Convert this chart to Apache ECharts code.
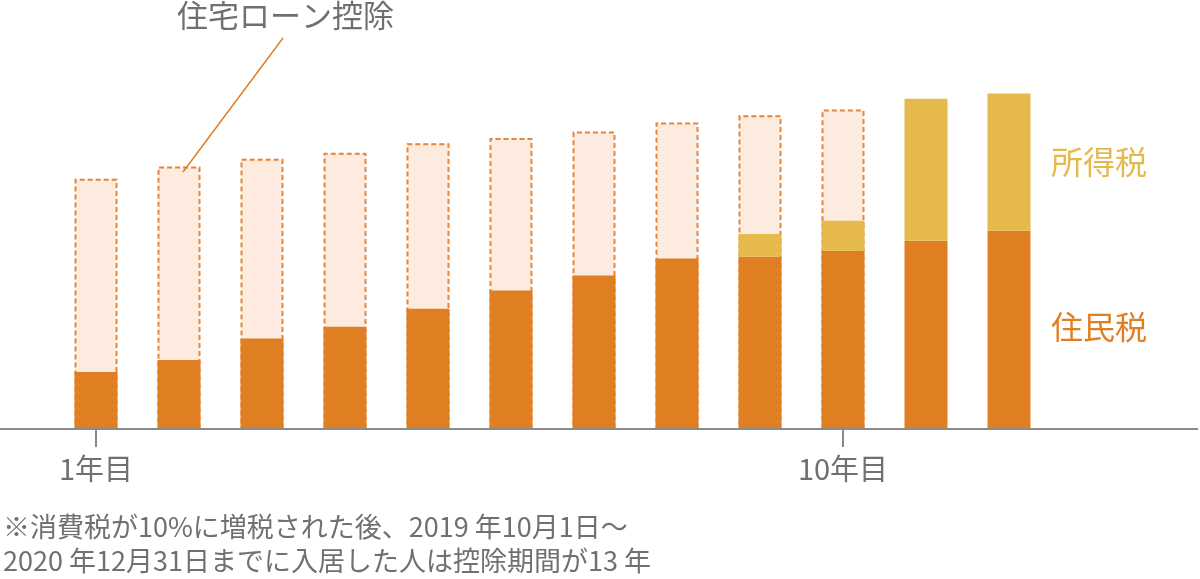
<!DOCTYPE html>
<html>
<head>
<meta charset="utf-8">
<script src="https://cdn.jsdelivr.net/npm/echarts@6/dist/echarts.min.js"></script>
<style>
html,body{margin:0;padding:0;background:#fff;}
#chart{width:1200px;height:579px;}
</style>
</head>
<body>
<div id="chart"></div>
<script>
// Data (arbitrary units; baseline 0, top of scale 100)
const categories = ['1年目','2年目','3年目','4年目','5年目','6年目','7年目','8年目','9年目','10年目','11年目','12年目'];
const shownLabels = ['1年目','10年目'];
const residentTax = [14, 17, 22.4, 25.3, 29.8, 34.4, 38.1, 42.4, 42.8, 44.3, 46.8, 49.3];
const incomeTax   = [null, null, null, null, null, null, null, null, 5.7, 7.5, 35.5, 34.3];
const loanDeduction = [62.3, 65.4, 67.3, 68.8, 71.2, 72.5, 74.1, 76.4, 78.2, 79.6, null, null];

const FONT = '"Noto Sans CJK JP", "Noto Sans", sans-serif';
const ORANGE = '#e07f22';
const YELLOW = '#e6b94d';
const PEACH = '#fdebe0';
const GRAY = '#707070';

const chart = echarts.init(document.getElementById('chart'), null, {renderer: 'canvas'});
const option = {
  animation: false,
  backgroundColor: '#ffffff',
  grid: {left: 54.5, right: 149.5, top: 28, bottom: 151, containLabel: false},
  xAxis: {
    type: 'category',
    data: categories,
    boundaryGap: true,
    axisLine: {show: false},
    axisTick: {
      show: true,
      alignWithLabel: true,
      length: 19,
      lineStyle: {color: '#888888', width: 2},
      interval: (i, v) => shownLabels.indexOf(v) >= 0
    },
    axisLabel: {
      interval: (i, v) => shownLabels.indexOf(v) >= 0,
      margin: 26,
      fontSize: 29,
      fontFamily: FONT,
      color: GRAY
    },
    splitLine: {show: false}
  },
  yAxis: {type: 'value', min: 0, max: 100, show: false, splitLine: {show: false}},
  series: [
    {
      name: '住宅ローン控除',
      type: 'bar',
      stack: 'ded',
      barWidth: 43,
      barGap: '-100%',
      z: 1,
      data: loanDeduction,
      itemStyle: {color: PEACH, borderColor: '#e5843a', borderWidth: 2, borderType: [5, 3]}
    },
    {
      name: '住民税',
      type: 'bar',
      stack: 'tax',
      barWidth: 43,
      barGap: '-100%',
      z: 3,
      data: residentTax,
      itemStyle: {color: ORANGE}
    },
    {
      name: '所得税',
      type: 'bar',
      stack: 'tax',
      barWidth: 43,
      barGap: '-100%',
      z: 3,
      data: incomeTax,
      itemStyle: {color: YELLOW}
    }
  ],
  graphic: [
    {type: 'line', z: 10, shape: {x1: 0, y1: 429, x2: 1198, y2: 429}, style: {stroke: '#8a8a8a', lineWidth: 2}},
    {type: 'line', z: 10, shape: {x1: 283, y1: 38, x2: 183, y2: 172}, style: {stroke: ORANGE, lineWidth: 1.5}},
    {type: 'text', left: 177, top: 0, style: {text: '住宅ローン控除', fontSize: 31, fontFamily: FONT, fill: GRAY}},
    {type: 'text', left: 1051, top: 146, style: {text: '所得税', fontSize: 32, fontFamily: FONT, fill: YELLOW}},
    {type: 'text', left: 1051, top: 311, style: {text: '住民税', fontSize: 32, fontFamily: FONT, fill: ORANGE}},
    {type: 'text', left: 3, top: 513, style: {text: '※消費税が10%に増税された後、2019 年10月1日〜', fontSize: 27, fontFamily: FONT, fill: GRAY}},
    {type: 'text', left: 3, top: 547, style: {text: '2020 年12月31日までに入居した人は控除期間が13 年', fontSize: 27, fontFamily: FONT, fill: GRAY}}
  ]
};
chart.setOption(option);
</script>
</body>
</html>
